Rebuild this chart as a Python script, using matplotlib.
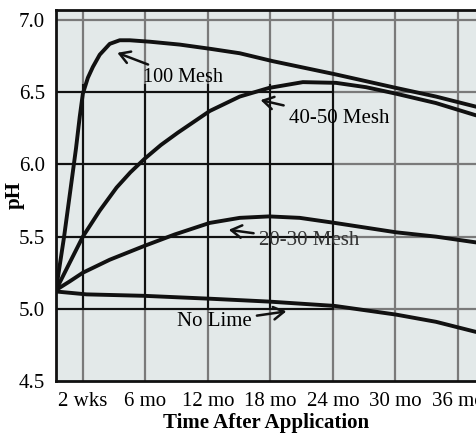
import numpy as np
import matplotlib.pyplot as plt

plt.rcParams['font.family'] = ['Liberation Serif', 'DejaVu Serif']

tick_labels = ['2 wks', '6 mo', '12 mo', '18 mo', '24 mo', '30 mo', '36 mo']
tick_pos = np.arange(len(tick_labels))
y_ticks = [4.5, 5.0, 5.5, 6.0, 6.5, 7.0]

# x is given in tick units (0 = 2 wks, 1 = 6 mo, ... 6 = 36 mo), -0.43 = application
mesh100_x = [-0.43, -0.30, -0.20, -0.11, -0.05, 0.0, 0.08, 0.16, 0.27, 0.43, 0.59,
             0.75, 1.07, 1.55, 2.05, 2.51, 3.04, 4.03, 5.01, 5.65, 6.29]
mesh100_y = [5.13, 5.50, 5.82, 6.11, 6.33, 6.49, 6.60, 6.675, 6.76, 6.835, 6.86,
             6.86, 6.85, 6.83, 6.80, 6.77, 6.715, 6.625, 6.53, 6.47, 6.40]

mesh4050_x = [-0.43, -0.21, 0.0, 0.27, 0.54, 0.76, 0.99, 1.25, 1.52, 2.03, 2.51,
              2.98, 3.52, 4.05, 4.53, 5.01, 5.65, 6.29]
mesh4050_y = [5.13, 5.32, 5.50, 5.68, 5.84, 5.945, 6.04, 6.135, 6.22, 6.37, 6.47,
              6.53, 6.57, 6.565, 6.535, 6.49, 6.425, 6.34]

mesh2030_x = [-0.43, -0.21, 0.0, 0.43, 0.98, 1.47, 2.03, 2.51, 2.98, 3.47,
              4.03, 5.01, 5.65, 6.29]
mesh2030_y = [5.13, 5.19, 5.25, 5.34, 5.435, 5.515, 5.595, 5.63, 5.64, 5.63,
              5.595, 5.53, 5.50, 5.46]

nolime_x = [-0.43, 0.06, 0.98, 2.03, 2.51, 2.98, 4.03, 5.01, 5.65, 6.29]
nolime_y = [5.12, 5.10, 5.09, 5.07, 5.06, 5.05, 5.02, 4.96, 4.91, 4.84]

xlim = (-0.43, 6.29)
ylim = (4.5, 7.07)

fig = plt.figure(figsize=(4.76, 4.34), dpi=100)
ax = fig.add_axes([0.1176, 0.1221, 0.8824, 0.855])
ax.set_facecolor('#e3e9e9')
ax.set_xlim(*xlim)
ax.set_ylim(*ylim)

# grid: gray everywhere, darker in the core block
grey = '#7a7a7a'
for xp in tick_pos:
    ax.plot([xp, xp], ylim, color=grey, lw=1.6, zorder=1)
for yp in y_ticks[1:]:
    ax.plot(xlim, [yp, yp], color=grey, lw=1.6, zorder=1)
for xp in tick_pos[:5]:
    ax.plot([xp, xp], [5.0, 6.55], color='#111111', lw=1.5, zorder=1.5)
for yp in [5.0, 5.5, 6.0, 6.5]:
    ax.plot([xlim[0], 4.0], [yp, yp], color='#111111', lw=1.5, zorder=1.5)

for xs, ys in [(mesh100_x, mesh100_y), (mesh4050_x, mesh4050_y),
               (mesh2030_x, mesh2030_y), (nolime_x, nolime_y)]:
    ax.plot(xs, ys, color='#111111', lw=2.8, solid_capstyle='round',
            solid_joinstyle='round', zorder=3)

arrow = dict(arrowstyle='->, head_length=0.5, head_width=0.3', color='#111111', lw=1.8)
ax.annotate('100 Mesh', xy=(0.51, 6.78), xytext=(0.96, 6.60),
            fontsize=14.5, va='center', ha='left', arrowprops=arrow, zorder=4)
ax.annotate('40-50 Mesh', xy=(2.80, 6.45), xytext=(3.30, 6.32),
            fontsize=15, va='center', ha='left', arrowprops=arrow, zorder=4)
ax.annotate('20-30 Mesh', xy=(2.29, 5.55), xytext=(2.82, 5.47),
            fontsize=15, va='center', ha='left', color='#333333',
            arrowprops=arrow, zorder=4)
ax.annotate('No Lime', xy=(3.30, 4.985), xytext=(1.50, 4.91),
            fontsize=15, va='center', ha='left', arrowprops=arrow, zorder=4)

ax.set_xticks(tick_pos)
ax.set_xticklabels(tick_labels)
ax.set_yticks(y_ticks)
ax.set_yticklabels([f'{v:.1f}' for v in y_ticks])
ax.tick_params(length=0, labelsize=15, pad=8)

for side in ['left', 'top', 'bottom']:
    ax.spines[side].set_color('#111111')
    ax.spines[side].set_linewidth(2)
ax.spines['right'].set_visible(False)

ax.set_xlabel('Time After Application', fontsize=15, fontweight='bold', labelpad=1)
ax.set_ylabel('pH', fontsize=15, fontweight='bold')
ax.yaxis.set_label_coords(-0.074, 0.5)

fig.savefig('out.png', dpi=100)
